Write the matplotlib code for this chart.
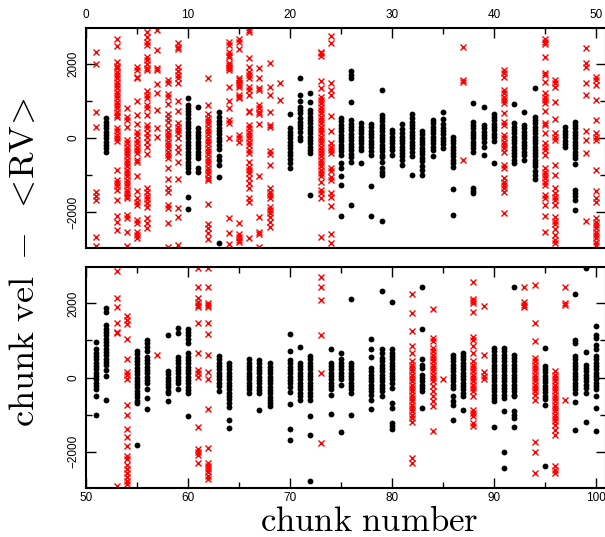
import numpy as np
import matplotlib
matplotlib.use('Agg')
from matplotlib import pyplot as plt
from matplotlib.ticker import MultipleLocator

plt.rcParams['mathtext.fontset'] = 'cm'
plt.rcParams['font.family'] = ['Liberation Sans', 'DejaVu Sans']

#chunks kept in the fit (black dots)
good_chunk = [2, 10, 11, 13, 20, 21, 22, 25, 26, 27, 28, 29, 30, 31, 32, 33, 34, 35, 36,
              38, 39, 40, 42, 43, 44, 47, 48,
              51, 52, 55, 56, 58, 59, 60, 63, 64, 66, 67, 68, 70, 71, 72, 74, 75, 76, 78,
              79, 80, 83, 86, 87, 90, 91, 92, 95, 98, 99, 100]
good_vel = [
    [530, 440, 350, 260, 170, 80, -10, -100, -190, -280, -370],
    [1090, 900, 820, 720, 640, 530, 440, 350, 260, 170, 80, -10, -100, -190, -280, -370, -460, -550, -640, -730, -820, -910, -1590, -1930],
    [830, 260, 170, 80, -10, -100, -190, -280, -370, -460, -550, -820, -910],
    [700, 560, 460, 370, 280, 190, 100, 10, -90, -190, -300, -500, -600, -730, -1060, -2830],
    [650, 260, 170, 80, -10, -100, -190, -280, -370, -460, -560, -680, -820],
    [1610, 1170, 990, 850, 760, 670, 530, 440, 350, 260, 170, 40, -50],
    [1210, 970, 760, 670, 580, 490, 400, 310, 220, 130, 40, -50, -140, -230, -320, -410, -1540],
    [540, 450, 360, 270, 180, 90, 0, -90, -180, -270, -360, -450, -680, -810, -1040, -1280, -2110],
    [1800, 1710, 1620, 970, 480, 390, 300, 210, 120, 30, -60, -150, -240, -330, -420, -510, -640, -1810],
    [400, 310, 220, 130, 40, -50, -140, -230, -330, -680],
    [380, 290, 200, 110, 20, -70, -160, -250, -340, -450, -1310, -2120],
    [1300, 630, 540, 450, 360, 270, 180, 90, 0, -90, -180, -270, -360, -450, -510, -640, -820, -910, -1000, -2240],
    [220, 130, 40, -50, -140, -230, -320, -460],
    [370, 240, 130, 40, -50, -140, -230, -320, -410, -500, -590, -730],
    [640, 530, 440, 350, 260, 170, 80, -10, -100, -190, -280, -370, -500, -990],
    [190, 100, 10, -80, -170, -260, -350, -440, -530, -620, -760, -870, -1010],
    [490, 400, 310, 220, 130, 40, -50, -140, -230, -320, -500],
    [700, 520, 370, 280, 190, 100, 10, -80, -170, -270],
    [40, -50, -140, -230, -320, -410, -500, -590, -680, -790, -1380, -2090],
    [960, 440, 350, 260, 170, 80, -10, -100, -190, -280, -380, -1360, -1440, -1500],
    [830, 350, 260, 170, 80, -10, -100, -230, -470],
    [650, 570, 480, 390, 300, 210, 120, 30, -90, -680],
    [920, 400, 310, 220, 130, 40, -50, -140, -230, -320, -410, -500, -590, -680],
    [700, 350, 260, 170, 80, -10, -100, -190, -280, -370, -470, -590],
    [1360, 580, 490, 400, 310, 220, 130, 40, -50, -140, -230, -320, -410, -500, -590, -680, -770, -900, -1000, -1100],
    [290, 200, 110, 20, -70, -160, -230],
    [440, 350, 260, 170, 80, -10, -100, -190, -280, -370, -460, -550, -690, -1400, -1490, -1570, -1670, -1940],
    [960, 760, 670, 580, 490, 400, 310, 220, 130, 40, -50, -140, -230, -300, -500, -1000],
    [1890, 1780, 1410, 1320, 1230, 1140, 1050, 960, 870, 780, 690, 600, 510, 420, 330, 200, 40, -610],
    [720, 630, 540, 450, 360, 270, 180, 90, 0, -90, -180, -270, -360, -450, -540, -630, -700, -1810],
    [1010, 920, 830, 720, 560, 470, 380, 290, 200, 110, 20, -70, -160, -300, -550, -840],
    [1160, 180, 90, 0, -90, -180, -270, -360, -430, -630],
    [1350, 1190, 560, 470, 380, 290, 200, 110, 20, -70, -160, -300],
    [1320, 1230, 1140, 1050, 920, 650, 560, 470, 380, 290, 200, 110, 20, -70, -160, -250, -340, -430, -1040],
    [580, 490, 400, 310, 220, 130, 40, -50, -140, -230, -360],
    [400, 310, 220, 130, 40, -50, -140, -230, -320, -410, -500, -590, -680, -810, -1140, -1360],
    [490, 400, 310, 220, 130, 40, -50, -140, -230, -320, -430],
    [470, 380, 290, 200, 110, 20, -70, -160, -250, -340, -410, -870],
    [380, 290, 200, 110, 20, -70, -160, -250, -340, -430, -520, -610, -700, -780],
    [1170, 720, 470, 380, 290, 200, 110, 20, -70, -160, -250, -390, -720, -1380, -1680],
    [820, 400, 310, 220, 130, 40, -50, -140, -230, -320, -410, -500, -600],
    [580, 490, 400, 310, 220, 130, 40, -50, -140, -230, -320, -410, -500, -600, -1030, -1550, -2800],
    [780, 400, 310, 220, 130, 40, -50, -140, -230, -320, -460, -980],
    [670, 490, 400, 310, 220, 130, 40, -50, -190, -1480],
    [2110, 400, 310, 220, 130, 40, -50, -140, -230, -320, -410, -1000],
    [1050, 760, 560, 260, 170, 80, -10, -100, -190, -280, -370, -460, -600, -850],
    [2350, 780, 670, 530, 440, 350, 260, 170, 80, -10, -100, -190, -280, -370, -500],
    [2040, 760, 670, 580, 490, 400, 310, 220, 130, 40, -50, -140, -280, -690, -820, -1230, -1320, -1400],
    [2450, 1320, 490, 350, 260, 80, -10, -100, -190, -280, -370, -820],
    [620, 530, 440, 350, 260, 170, 80, -10, -100, -190, -280, -500, -640, -730, -1160],
    [670, 580, 490, 400, 310, 220, 130, 40, -50, -140, -230, -320, -410, -500, -870],
    [800, 710, 620, 530, 440, 350, 260, 170, 80, -10, -100, -190, -280, -370, -460, -550, -640, -1330],
    [800, 710, 620, 530, 440, 350, 260, 170, 80, -10, -100, -190, -280, -370, -460, -550, -910, -2010, -2440],
    [2450, 620, 530, 440, 350, 260, 170, 80, -10, -100, -190, -280, -370, -460, -500, -910, -1000, -1090, -1330],
    [800, 320, 230, 140, 50, -40, -130, -220, -310, -400, -490, -580, -730, -2380],
    [2260, 1010, 940, 580, 490, 400, 310, 220, 130, 40, -50, -140, -230, -320, -410, -670, -1430],
    [2960, 690, 350, 260, 170, 80, -10, -100, -190, -280, -410, -1200],
    [1390, 1160, 1070, 890, 760, 580, 490, 400, 310, 220, 130, 40, -50, -140, -230, -320, -500, -820, -1450],
]

#rejected chunks (red crosses)
bad_chunk = [1, 3, 4, 5, 6, 7, 8, 9, 12, 14, 15, 16, 17, 18, 19, 23, 24, 37, 41, 45, 46, 49, 50,
             53, 54, 57, 61, 62, 73, 82, 84, 85, 88, 89, 93, 94, 96, 97]
bad_vel = [
    [2330, 2010, 700, 290, -1450, -1580, -1670, -2680, -2920],
    [2690, 2480, 2060, 1960, 1880, 1790, 1700, 1610, 1520, 1430, 1340, 1250, 1160, 1070, 980, 890, 800, 710, 620, 580, 270, 180, 90, 0, -90, -860, -1130, -1220, -1310, -1400, -1670, -2120, -2260, -2480],
    [820, 580, 490, 310, -50, -140, -230, -320, -410, -500, -590, -680, -770, -860, -950, -1040, -1130, -1220, -1310, -1400, -1490, -1580, -1630, -2080, -2170, -2550, -2910],
    [1930, 1840, 1660, 1610, 1000, 620, 370, 170, 80, -50, -140, -230, -320, -410, -600, -640, -1040, -1430, -1630, -1720, -1810, -2220, -2310, -2530, -2620, -2710],
    [2860, 2740, 2600, 2510, 2200, 2110, 1990, 1900, 1840, 1270, 1160, 1070, 890, 800, 620, 350, 260, 130, 40, -100, -230, -440, -1360, -1460, -1560, -1660, -1760, -1860, -2170, -2310, -2440],
    [2920, 2380, 1900, 1840, 1450, 1210, 760, 260, 40],
    [1570, 1500, 1180, 1120, 910, 640, 550, 440, 260, 170, 80, -10, -100, -190, -280, -370, -460, -550, -800, -1110, -1360, -1450, -1810, -1880, -2310, -2940],
    [2560, 2470, 2410, 1930, 1810, 1700, 1610, 1500, 1000, 730, 410, 310, 220, 130, 10, -230, -370, -640, -1110, -1880, -2130, -2890],
    [1630, 890, 640, 550, 460, 370, 280, 190, 100, 10, -80, -170, -260, -350, -440, -530, -620, -710, -800, -890, -980, -1070, -1140, -1790, -2330, -2440, -2580, -2740],
    [2600, 2510, 2330, 2240, 2200, 2020, 1970, 1930, 1880, 1840, 1390, 1000, 800, 490, 400, -10, -2170, -2580, -2870],
    [2680, 2600, 2420, 1630, 1570, 1500, 1430, 1390, 1160, 1120, 1070, 80, -10, -100, -2290, -2600, -2670, -2760, -2820],
    [2920, 2860, 2170, 1930, 1790, 1700, 1610, 1390, 1300, 1160, 730, 690, 350, 260, 170, 80, -10, -100, -190, -320, -410, -640, -780, -870, -960, -1090, -1230, -1360, -1630, -1720, -2710],
    [1900, 1610, 1360, 1300, 890, 820, 710, 640, 370, -1020, -2130, -2530, -2600, -2940],
    [2020, 1390, 1160, 690, 350, 310, -350, -440, -730, -1360, -1450, -1540, -1630, -1860, -1950, -2040, -2130, -2260, -2420],
    [1480, 1030],
    [2330, 2290, 2230, 1530, 1350, 1120, 1030, 940, 850, 760, 670, 580, 490, 400, 310, 220, 130, 40, -50, -140, -230, -320, -410, -500, -590, -680, -770, -860, -950, -1040, -1180, -1410, -1500, -1630, -2670],
    [2770, 2560, 1500, 1300, 1160, 600, 190, -140, -230, -320, -410, -800, -890, -1050, -1140, -1500, -1590, -1830, -2600, -2850],
    [2470, 1570, 1520, -590],
    [1840, 1750, 1660, 1300, 1210, 1120, 1030, 940, 670, 440, 350, 80, -10, -100, -190, -280, -370, -730, -800, -1090, -1180, -1270, -1360, -1450, -2040],
    [2690, 2600, 2530, 2200, 1750, 1700, 1520, 1210, 1120, 1030, 940, 730, 400, 350, 130, -140, -230, -320, -460, -820, -910, -1000, -1090, -1180, -1270, -1540, -1630, -1810, -2100, -2530],
    [1570, 1480, 1390, 980, 510, 130, 40, -50, -730, -1000, -1360, -1500, -1590, -1680, -1810, -2150, -2240, -2330, -2470, -2610, -2750, -2850],
    [2440, 2020, 1930, 1480, 1160, 190, -50, -410, -2240],
    [1660, 1570, 1430, 1030, 490, 130, 40, -50, -870, -1430, -1630, -1720, -2170, -2260, -2350, -2440, -2530, -2620, -2710, -2800, -2890],
    [2880, 2140, 1910, 1480, 1230, 1200, -2940],
    [1660, 1550, 1440, 1050, 510, 150, 60, -50, -750, -1000, -1400, -1620, -1850, -2130, -2190, -2370, -2480, -2590, -2700, -2800, -2880],
    [600],
    [2950, 2450, 2140, 2050, 1960, 1910, 1460, 650, 200, 130, 20, -1330, -1920, -2010, -2100, -2310],
    [2950, 2450, 2020, 1960, 1910, 1460, 1170, 600, 150, -50, -840, -1900, -2300, -2380, -2470, -2560, -2650, -2730],
    [2720, 2450, 2090, 1160, 130, -1780],
    [2260, 1750, 1250, 850, 670, 440, 350, 260, 170, 80, -10, -100, -190, -280, -370, -460, -550, -640, -730, -820, -910, -1000, -1090, -1210, -2170, -2310],
    [1860, 1070, 980, 800, 710, 620, 530, 440, 350, 260, 170, 80, -10, -100, -230, -370, -500, -640, -780, -1450],
    [-40],
    [2590, 2130, 2060, 2000, 1780, 1100, 1010, 850, 670, 440, 350, 260, 170, 80, -10, -100, -190, -280, -370, -500, -870, -960, -1050, -1230, -1320],
    [1930, 600, 140, 40, -50],
    [2450, 2040, 1970, 1910],
    [2500, 1480, 980, 530, 440, 350, 260, 170, 80, -10, -100, -190, -280, -370, -460, -600, -1750, -2010, -2580],
    [170, 80, -10, -100, -190, -280, -370, -460, -550, -640, -730, -820, -910, -1000, -1090, -1180, -1270, -1410, -1540, -2400, -2490, -2580],
    [2450, 2020, 1950, -600],
]


def flatten(chunks, vels, lo, hi):
    xs, ys = [], []
    for c, v in zip(chunks, vels):
        if lo <= c <= hi:
            xs += [c] * len(v)
            ys += v
    return xs, ys


fig = plt.figure(figsize=(6.05, 5.37), dpi=100)
ax1 = fig.add_axes([86/605, 289/537, 520/605, 220/537])
ax2 = fig.add_axes([86/605, 49/537, 520/605, 221/537])

panels = [(ax1, 0, 50, (0, 51), (-2975, 2975)),
          (ax2, 51, 100, (50, 101), (-2985, 2985))]

for ax, lo, hi, xlim, ylim in panels:
    gx, gy = flatten(good_chunk, good_vel, lo, hi)
    bx, by = flatten(bad_chunk, bad_vel, lo, hi)
    ax.plot(bx, by, 'x', color='red', ms=4.5, mew=1.0)
    ax.plot(gx, gy, 'o', color='black', ms=4.2, mew=0)
    ax.set_xlim(xlim)
    ax.set_ylim(ylim)
    ax.xaxis.set_major_locator(MultipleLocator(10))
    ax.xaxis.set_minor_locator(MultipleLocator(5))
    ax.yaxis.set_major_locator(MultipleLocator(2000))
    ax.yaxis.set_minor_locator(MultipleLocator(1000))
    ax.tick_params(which='both', direction='in', left=True, right=True, width=1, labelsize=8.5)
    ax.tick_params(which='major', length=7)
    ax.tick_params(which='minor', length=4)
    ax.tick_params(axis='y', labelrotation=90, pad=5)
    plt.setp(ax.get_yticklabels(), va='center')
    for s in ax.spines.values():
        s.set_linewidth(1.5)

#top panel: chunk numbers on the top axis
ax1.tick_params(axis='x', which='both', top=True, bottom=False, labeltop=True, labelbottom=False, pad=5)
ax2.tick_params(axis='x', which='both', top=True, bottom=True, pad=3)

fig.text(369/605, 1 - 531/537, r'$\mathrm{chunk\ number}$', fontsize=25, ha='center', va='baseline')
fig.text(24/605, 1 - 262/537, r'$\mathrm{chunk\ vel\ -\ }<\!\mathrm{RV}\!>$', rotation=90,
         fontsize=26, ha='center', va='center')

plt.savefig('out.png', dpi=100)
